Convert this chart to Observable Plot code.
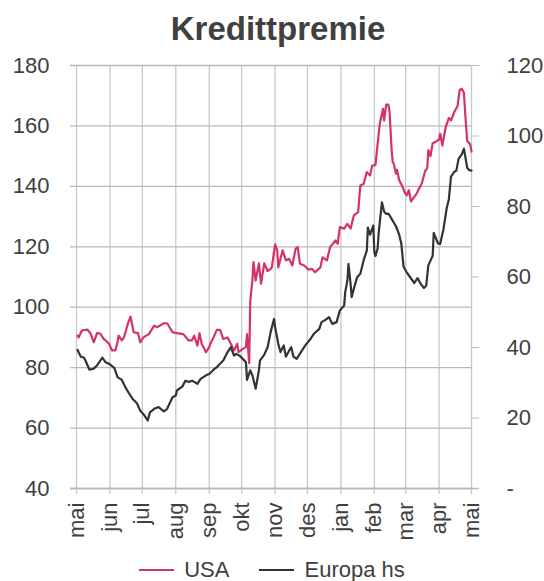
<!DOCTYPE html>
<html>
<head>
<meta charset="utf-8">
<script src="https://cdn.jsdelivr.net/npm/d3@7"></script>
<script src="https://cdn.jsdelivr.net/npm/@observablehq/plot@0.6"></script>
<style>
  html, body { margin: 0; padding: 0; background: #fff; }
  body { width: 544px; height: 581px; overflow: hidden; font-family: "Liberation Sans", Arial, sans-serif; color: #404040; }
  #title { height: 50px; box-sizing: border-box; padding-top: 8px; padding-left: 12px; line-height: 42px; text-align: center; font-weight: bold; font-size: 33px; color: #404040; }
  #legend { height: 36px; box-sizing: border-box; padding-top: 13px; display: flex; justify-content: center; align-items: center; font-size: 22px; line-height: 25px; }
  .sw { display: inline-block; width: 35px; height: 2px; margin-right: 10px; }
  .item { display: flex; align-items: center; }
  .item + .item { margin-left: 30px; }
</style>
</head>
<body>
<div id="title">Kredittpremie</div>
<div id="chart"></div>
<div id="legend"></div>
<script>
// Axis ticks
const leftTicks = [40, 60, 80, 100, 120, 140, 160, 180];
const rightTicks = [0, 20, 40, 60, 80, 100, 120];
const rightLabels = ["-", "20", "40", "60", "80", "100", "120"];
const monthTicks = ["2007-05-01","2007-06-01","2007-07-01","2007-08-01","2007-09-01","2007-10-01","2007-11-01","2007-12-01","2008-01-01","2008-02-01","2008-03-01","2008-04-01","2008-05-01"];
const monthLabels = ["mai","jun","jul","aug","sep","okt","nov","des","jan","feb","mar","apr","mai"];

// Series names
const seriesNames = ["USA", "Europa hs"];

// USA (left axis)
const usaDates = ["2007-05-02","2007-05-03","2007-05-06","2007-05-11","2007-05-14","2007-05-17","2007-05-20","2007-05-23","2007-05-26","2007-05-31",
"2007-06-03","2007-06-06","2007-06-08","2007-06-09","2007-06-12","2007-06-14","2007-06-18","2007-06-20","2007-06-23","2007-06-27","2007-06-29",
"2007-07-02","2007-07-07","2007-07-12","2007-07-15","2007-07-21","2007-07-24","2007-07-29","2007-08-02","2007-08-08","2007-08-13","2007-08-16",
"2007-08-18","2007-08-21","2007-08-23","2007-08-25","2007-08-29","2007-09-01","2007-09-02","2007-09-05","2007-09-08","2007-09-11","2007-09-14",
"2007-09-18","2007-09-21","2007-09-24","2007-09-27","2007-09-28","2007-10-02","2007-10-05","2007-10-06","2007-10-08","2007-10-09","2007-10-11",
"2007-10-12","2007-10-14","2007-10-17","2007-10-19","2007-10-22","2007-10-25","2007-10-28","2007-10-29","2007-11-01","2007-11-03","2007-11-04",
"2007-11-08","2007-11-11","2007-11-14","2007-11-17","2007-11-20","2007-11-22","2007-11-24","2007-11-28","2007-12-02","2007-12-05","2007-12-08",
"2007-12-13","2007-12-15","2007-12-19","2007-12-22","2007-12-27","2007-12-29","2007-12-31","2008-01-04","2008-01-07","2008-01-10","2008-01-13",
"2008-01-17","2008-01-19","2008-01-22","2008-01-25","2008-01-28","2008-01-30","2008-02-02","2008-02-04","2008-02-06","2008-02-08","2008-02-09",
"2008-02-10","2008-02-12","2008-02-14","2008-02-15","2008-02-17","2008-02-18","2008-02-19","2008-02-21","2008-02-22","2008-02-24","2008-02-27",
"2008-02-29","2008-03-02","2008-03-04","2008-03-06","2008-03-09","2008-03-11","2008-03-13","2008-03-16","2008-03-19","2008-03-21","2008-03-22",
"2008-03-24","2008-03-26","2008-03-29","2008-04-01","2008-04-02","2008-04-04","2008-04-07","2008-04-10","2008-04-12","2008-04-15","2008-04-18",
"2008-04-20","2008-04-22","2008-04-24","2008-04-25","2008-04-27","2008-04-29","2008-04-30","2008-05-01"];
const usaValues = [90.6,90,92.3,92.6,91.3,88.4,91.4,91.3,89.6,88,
85.7,85.7,88.4,90.6,89,90,95,96.9,91.7,91.4,88.4,
90,91.1,93.9,93.4,94.7,94.7,91.7,91.4,91.1,89,89,
90.6,87.3,91.4,87.9,85.1,86.8,87.9,90,92.5,92.5,89.5,
90,87.9,85.7,87.9,85.1,86.2,86.8,91.1,81.5,102,108.8,
114.9,108.8,114.5,107.8,114.5,112,112.7,113.2,120.8,118.8,113.2,
118.8,115.5,116,113.8,119.3,119.9,114.4,113.8,112.4,112.7,111.6,
113.2,116.5,115.5,119.9,122.1,121,126.5,126,127.6,126,130.4,
131.5,140.3,140.8,144.7,143.6,146.9,147,154,160.7,164,165.7,
161.8,167.1,167.1,165,152,148,147.5,144.2,145.5,142,140,
138,137,138.7,135,136.5,137.5,139,141,145,146,152,
150,154.3,154.8,155.5,157.4,153.5,159.5,162.6,161.8,164.6,166.5,
171.8,172.3,171,165,155,154.3,153.5,151.5];

// Europa (right axis)
const euDates = ["2007-05-02","2007-05-05","2007-05-08","2007-05-10","2007-05-13","2007-05-17","2007-05-20","2007-05-25","2007-05-28","2007-05-31",
"2007-06-05","2007-06-08","2007-06-12","2007-06-15","2007-06-18","2007-06-22","2007-06-26","2007-06-29","2007-07-03","2007-07-06","2007-07-08",
"2007-07-12","2007-07-16","2007-07-21","2007-07-24","2007-07-29","2007-08-01","2007-08-02","2007-08-07","2007-08-10","2007-08-13","2007-08-16",
"2007-08-21","2007-08-24","2007-08-29","2007-09-01","2007-09-05","2007-09-08","2007-09-11","2007-09-14","2007-09-18","2007-09-21","2007-09-24",
"2007-09-26","2007-09-29","2007-10-02","2007-10-05","2007-10-06","2007-10-09","2007-10-11","2007-10-14","2007-10-17","2007-10-18","2007-10-22",
"2007-10-25","2007-10-28","2007-10-31","2007-11-01","2007-11-04","2007-11-06","2007-11-09","2007-11-11","2007-11-14","2007-11-16","2007-11-18",
"2007-11-21","2007-11-25","2007-11-29","2007-12-04","2007-12-07","2007-12-12","2007-12-14","2007-12-18","2007-12-21","2007-12-24","2007-12-28",
"2007-12-31","2008-01-04","2008-01-05","2008-01-07","2008-01-08","2008-01-10","2008-01-11","2008-01-13","2008-01-16","2008-01-19","2008-01-22",
"2008-01-25","2008-01-26","2008-01-28","2008-01-31","2008-02-01","2008-02-02","2008-02-04","2008-02-05","2008-02-08","2008-02-10","2008-02-12",
"2008-02-14","2008-02-17","2008-02-21","2008-02-24","2008-02-26","2008-02-28","2008-03-02","2008-03-05","2008-03-09","2008-03-12","2008-03-15",
"2008-03-18","2008-03-20","2008-03-22","2008-03-26","2008-03-27","2008-03-31","2008-04-02","2008-04-05","2008-04-08","2008-04-10","2008-04-12",
"2008-04-15","2008-04-17","2008-04-19","2008-04-22","2008-04-24","2008-04-27","2008-04-29","2008-05-01"];
const euValues = [39.3,37.4,37.1,35.8,33.7,34,34.9,37.1,35.8,35.4,
34.2,31.6,30.8,28.9,27.3,25.4,24.2,22.1,20.7,19.3,21.6,
22.6,23.1,21.9,22.6,25.9,26.4,27.8,28.9,30.6,30.2,30.6,
29.7,31.1,32.1,32.5,33.7,34.4,35.4,36.3,38.7,40.1,37.7,
38.2,37.7,36.8,35.8,30.8,33.5,32.1,28.3,33.5,36.3,38,
40,44.5,48.1,45.8,41,38.7,40.6,37.4,39.1,40.1,37.4,
36.8,38.7,40.6,42.5,43.9,45.3,47.2,47.9,48.6,46.7,47.2,
50.5,51.9,55.7,59,63.7,58,54.3,56.7,59.9,60.9,64.7,
67.5,74,72,74.6,67,66,68,72.5,81.2,78.6,77.9,
78,76.5,74.4,72,69.4,63,61.3,60,58.3,59.7,58,
56.9,57.5,63.3,66,72.5,69.5,69.4,73.5,79.5,82,88.5,
89.8,90.2,93.5,94.8,96.4,91,90.3,90.2];

const colors = ["#d4326e", "#333333"];

const usa = usaDates.map((d, i) => ({date: new Date(d), value: usaValues[i]}));
const europa = euDates.map((d, i) => ({date: new Date(d), value: euValues[i]}));
const months = monthTicks.map(d => new Date(d));

// map right-axis value onto left-axis scale (0..120 -> 40..180)
const toLeft = v => 40 + v * (180 - 40) / 120;

const chart = Plot.plot({
  width: 544,
  height: 495,
  marginTop: 15,
  marginBottom: 57,
  marginLeft: 76,
  marginRight: 73,
  style: {fontFamily: "'Liberation Sans', Arial, sans-serif", fontSize: "22px", color: "#404040", background: "#fff", overflow: "visible"},
  x: {type: "utc", domain: [months[0], months[months.length - 1]]},
  y: {domain: [40, 180]},
  marks: [
    Plot.ruleX(months, {stroke: "#c8c8c8", strokeWidth: 1.3, insetBottom: -6}),
    Plot.ruleY(leftTicks, {stroke: "#b8b8b8", strokeWidth: 1.3, insetLeft: -6}),
    Plot.ruleY([40], {stroke: "#b8b8b8", strokeWidth: 1.3, insetLeft: -6, insetRight: -7}),
    Plot.axisY(leftTicks, {anchor: "left", label: null, tickSize: 0, tickPadding: 27, fill: "#404040"}),
    Plot.axisY(rightTicks.map(toLeft), {anchor: "right", label: null, tickSize: 7, tickPadding: 28, stroke: "#b8b8b8", fill: "#404040", tickFormat: (d, i) => rightLabels[i]}),
    Plot.axisX(months, {anchor: "bottom", label: null, tickSize: 0, tickPadding: 14, tickRotate: -90, fill: "#404040", tickFormat: (d, i) => monthLabels[i]}),
    Plot.line(usa, {x: "date", y: "value", stroke: colors[0], strokeWidth: 2.2}),
    Plot.line(europa, {x: "date", y: d => toLeft(d.value), stroke: colors[1], strokeWidth: 2.2})
  ]
});
document.getElementById("chart").appendChild(chart);

const legend = document.getElementById("legend");
seriesNames.forEach((name, i) => {
  const item = document.createElement("span");
  item.className = "item";
  const sw = document.createElement("span");
  sw.className = "sw";
  sw.style.background = colors[i];
  item.appendChild(sw);
  item.appendChild(document.createTextNode(name));
  legend.appendChild(item);
});
</script>
</body>
</html>
